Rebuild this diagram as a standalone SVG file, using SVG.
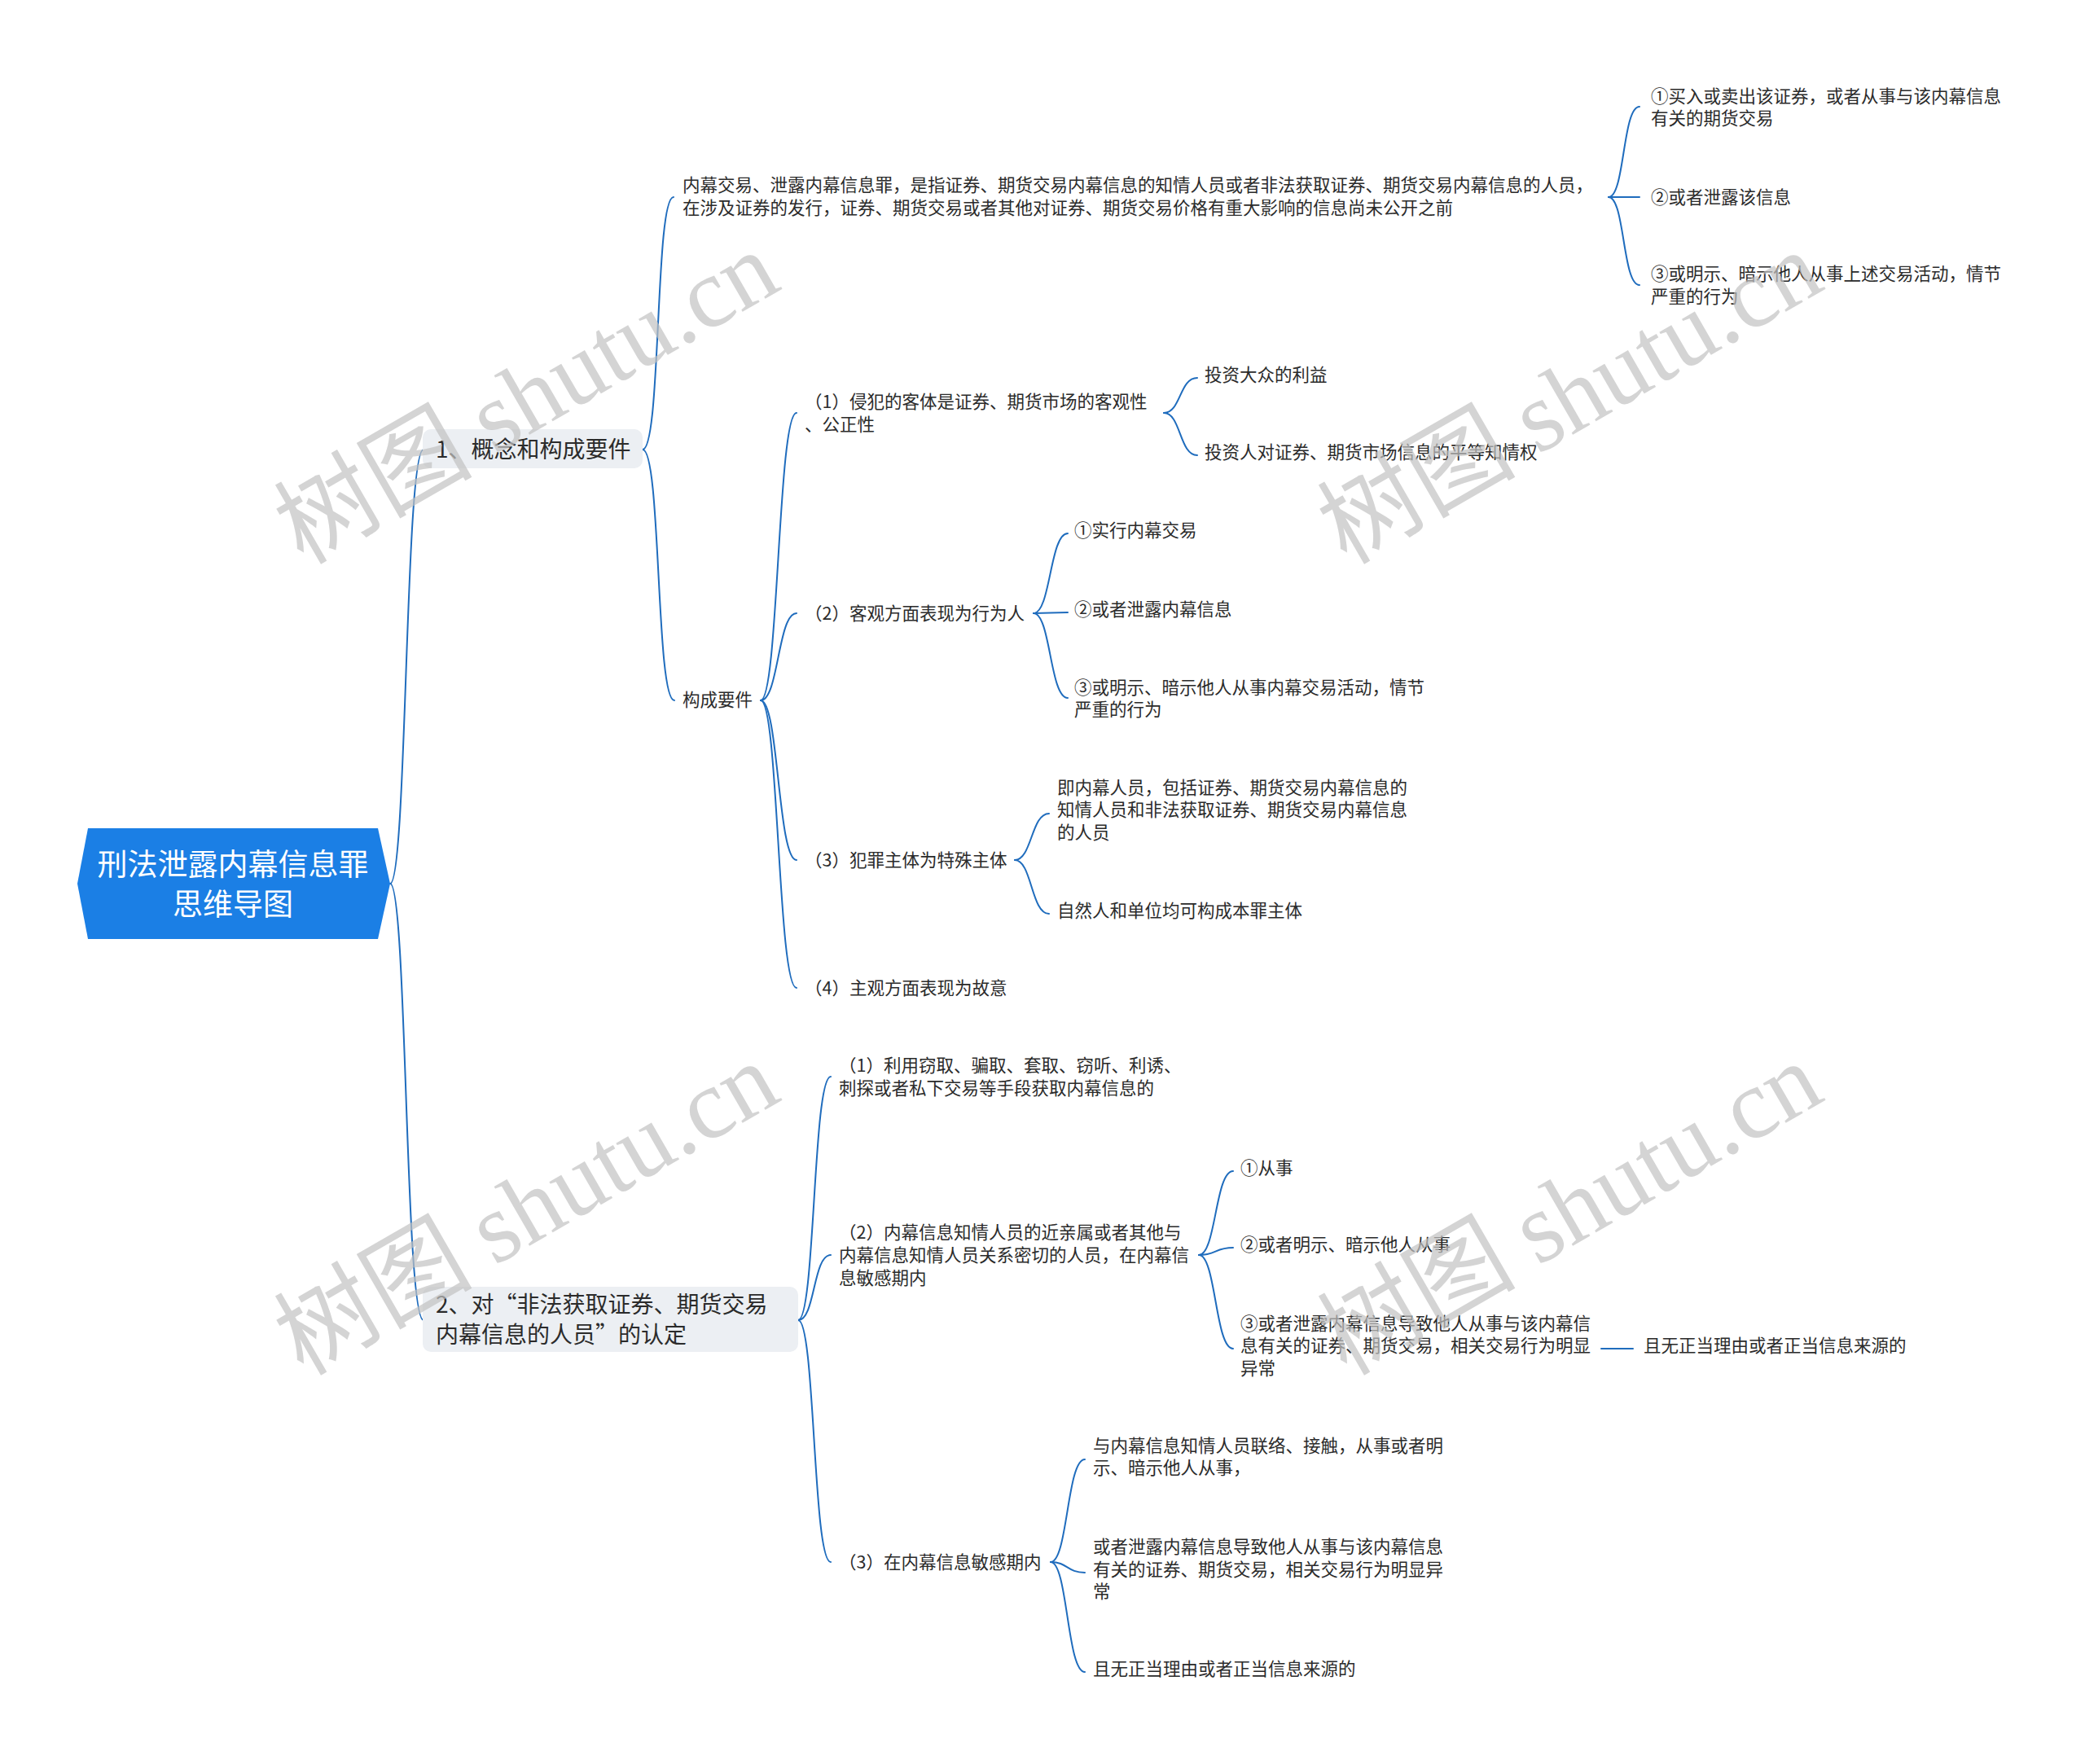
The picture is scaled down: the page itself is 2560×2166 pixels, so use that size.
<svg xmlns="http://www.w3.org/2000/svg" width="2560" height="2166" viewBox="0 0 2560 2166">
<style>
text{font-family:"Noto Sans CJK SC","Noto Sans",sans-serif;fill:#2b2b2b}
.leaf{font-size:21.5px}
.br{font-size:28px}
.root{font-size:37px;fill:#ffffff}
.wm{font-size:122px;fill:#c2c2c2;opacity:0.7}
.wmf{font-family:"Liberation Serif",serif}
.c{fill:none;stroke:#1f6cbd;stroke-width:2;stroke-linecap:round}
</style>
<rect width="2560" height="2166" fill="#ffffff"/>

<g id="connectors">
<path class="c" d="M479,1085 C500,1085 497,552 520,552"/>
<path class="c" d="M479,1085 C500,1085 497,1621 520,1621"/>
<path class="c" d="M789,552 C812,552 804,242 827,242"/>
<path class="c" d="M789,552 C812,552 805,860 828,860"/>
<path class="c" d="M1975,242 C1995,242 1992,131 2013,131"/>
<path class="c" d="M1975,242 L2013,242"/>
<path class="c" d="M1975,242 C1995,242 1992,350 2013,350"/>
<path class="c" d="M934,860 C956,860 955,507 978,507"/>
<path class="c" d="M934,860 C956,860 955,753 978,753"/>
<path class="c" d="M934,860 C956,860 955,1056 978,1056"/>
<path class="c" d="M934,860 C956,860 955,1213 978,1213"/>
<path class="c" d="M1429,507 C1450,507 1448,464 1470,464"/>
<path class="c" d="M1429,507 C1450,507 1448,559 1470,559"/>
<path class="c" d="M1269,753 C1290,753 1289,655 1311,655"/>
<path class="c" d="M1269,753 C1290,753 1289,752 1311,752"/>
<path class="c" d="M1269,753 C1290,753 1289,857 1311,857"/>
<path class="c" d="M1246,1056 C1267,1056 1266,999 1288,999"/>
<path class="c" d="M1246,1056 C1267,1056 1266,1122 1288,1122"/>
<path class="c" d="M980,1621 C1001,1621 998,1322 1020,1322"/>
<path class="c" d="M980,1621 C1001,1621 998,1541 1020,1541"/>
<path class="c" d="M980,1621 C1001,1621 998,1918 1020,1918"/>
<path class="c" d="M1472,1541 C1493,1541 1492,1438 1514,1438"/>
<path class="c" d="M1472,1541 C1493,1541 1492,1532 1514,1532"/>
<path class="c" d="M1472,1541 C1493,1541 1492,1656 1514,1656"/>
<path class="c" d="M1966,1656 L2005,1656"/>
<path class="c" d="M1290,1918 C1311,1918 1310,1792 1332,1792"/>
<path class="c" d="M1290,1918 C1311,1918 1310,1931 1332,1931"/>
<path class="c" d="M1290,1918 C1311,1918 1310,2053 1332,2053"/>
</g>

<g id="root">
<polygon points="95,1085 108,1017 464,1017 479,1085 464,1153 108,1153" fill="#1b7fe5"/>
<text class="root" x="286" y="1075" text-anchor="middle">刑法泄露内幕信息罪</text>
<text class="root" x="286" y="1124" text-anchor="middle">思维导图</text>
</g>

<g id="b1">
<rect x="519" y="527" width="270" height="48" rx="10" fill="#eceff3"/>
<text class="br" x="535" y="562">1、概念和构成要件</text>
</g>
<g id="b2">
<rect x="519" y="1580" width="461" height="80" rx="10" fill="#eceff3"/>
<text class="br" x="535" y="1612">2、对“非法获取证券、期货交易</text>
<text class="br" x="535" y="1649">内幕信息的人员”的认定</text>
</g>

<g id="nA">
<text class="leaf" x="838" y="235">内幕交易、泄露内幕信息罪，是指证券、期货交易内幕信息的知情人员或者非法获取证券、期货交易内幕信息的人员，</text>
<text class="leaf" x="838" y="263">在涉及证券的发行，证券、期货交易或者其他对证券、期货交易价格有重大影响的信息尚未公开之前</text>
</g>
<g id="nA1">
<text class="leaf" x="2027" y="126">①买入或卖出该证券，或者从事与该内幕信息</text>
<text class="leaf" x="2027" y="153">有关的期货交易</text>
</g>
<g id="nA2"><text class="leaf" x="2027" y="250">②或者泄露该信息</text></g>
<g id="nA3">
<text class="leaf" x="2027" y="344">③或明示、暗示他人从事上述交易活动，情节</text>
<text class="leaf" x="2027" y="372">严重的行为</text>
</g>

<g id="nB"><text class="leaf" x="838" y="867">构成要件</text></g>
<g id="nC1">
<text class="leaf" x="988" y="501">（1）侵犯的客体是证券、期货市场的客观性</text>
<text class="leaf" x="988" y="529">、公正性</text>
</g>
<g id="nC1a"><text class="leaf" x="1479" y="468">投资大众的利益</text></g>
<g id="nC1b"><text class="leaf" x="1479" y="563">投资人对证券、期货市场信息的平等知情权</text></g>
<g id="nC2"><text class="leaf" x="988" y="761">（2）客观方面表现为行为人</text></g>
<g id="nC2a"><text class="leaf" x="1319" y="659">①实行内幕交易</text></g>
<g id="nC2b"><text class="leaf" x="1319" y="756">②或者泄露内幕信息</text></g>
<g id="nC2c">
<text class="leaf" x="1319" y="852">③或明示、暗示他人从事内幕交易活动，情节</text>
<text class="leaf" x="1319" y="879">严重的行为</text>
</g>
<g id="nC3"><text class="leaf" x="988" y="1064">（3）犯罪主体为特殊主体</text></g>
<g id="nC3a">
<text class="leaf" x="1298" y="975">即内幕人员，包括证券、期货交易内幕信息的</text>
<text class="leaf" x="1298" y="1002">知情人员和非法获取证券、期货交易内幕信息</text>
<text class="leaf" x="1298" y="1030">的人员</text>
</g>
<g id="nC3b"><text class="leaf" x="1298" y="1126">自然人和单位均可构成本罪主体</text></g>
<g id="nC4"><text class="leaf" x="988" y="1221">（4）主观方面表现为故意</text></g>

<g id="nD1">
<text class="leaf" x="1030" y="1316">（1）利用窃取、骗取、套取、窃听、利诱、</text>
<text class="leaf" x="1030" y="1344">刺探或者私下交易等手段获取内幕信息的</text>
</g>
<g id="nD2">
<text class="leaf" x="1030" y="1521">（2）内幕信息知情人员的近亲属或者其他与</text>
<text class="leaf" x="1030" y="1549">内幕信息知情人员关系密切的人员，在内幕信</text>
<text class="leaf" x="1030" y="1577">息敏感期内</text>
</g>
<g id="nD2a"><text class="leaf" x="1523" y="1442">①从事</text></g>
<g id="nD2b"><text class="leaf" x="1523" y="1536">②或者明示、暗示他人从事</text></g>
<g id="nD2c">
<text class="leaf" x="1523" y="1633">③或者泄露内幕信息导致他人从事与该内幕信</text>
<text class="leaf" x="1523" y="1660">息有关的证券、期货交易，相关交易行为明显</text>
<text class="leaf" x="1523" y="1688">异常</text>
</g>
<g id="nD2c1"><text class="leaf" x="2018" y="1660">且无正当理由或者正当信息来源的</text></g>
<g id="nD3"><text class="leaf" x="1030" y="1926">（3）在内幕信息敏感期内</text></g>
<g id="nD3a">
<text class="leaf" x="1342" y="1783">与内幕信息知情人员联络、接触，从事或者明</text>
<text class="leaf" x="1342" y="1810">示、暗示他人从事，</text>
</g>
<g id="nD3b">
<text class="leaf" x="1342" y="1907">或者泄露内幕信息导致他人从事与该内幕信息</text>
<text class="leaf" x="1342" y="1935">有关的证券、期货交易，相关交易行为明显异</text>
<text class="leaf" x="1342" y="1962">常</text>
</g>
<g id="nD3c"><text class="leaf" x="1342" y="2057">且无正当理由或者正当信息来源的</text></g>

<g id="watermarks">
<text class="wm" transform="translate(667,524) rotate(-30)" text-anchor="middle">树图 <tspan class="wmf">shutu.cn</tspan></text>
<text class="wm" transform="translate(1948,524) rotate(-30)" text-anchor="middle">树图 <tspan class="wmf">shutu.cn</tspan></text>
<text class="wm" transform="translate(667,1520) rotate(-30)" text-anchor="middle">树图 <tspan class="wmf">shutu.cn</tspan></text>
<text class="wm" transform="translate(1948,1520) rotate(-30)" text-anchor="middle">树图 <tspan class="wmf">shutu.cn</tspan></text>
</g>
</svg>
